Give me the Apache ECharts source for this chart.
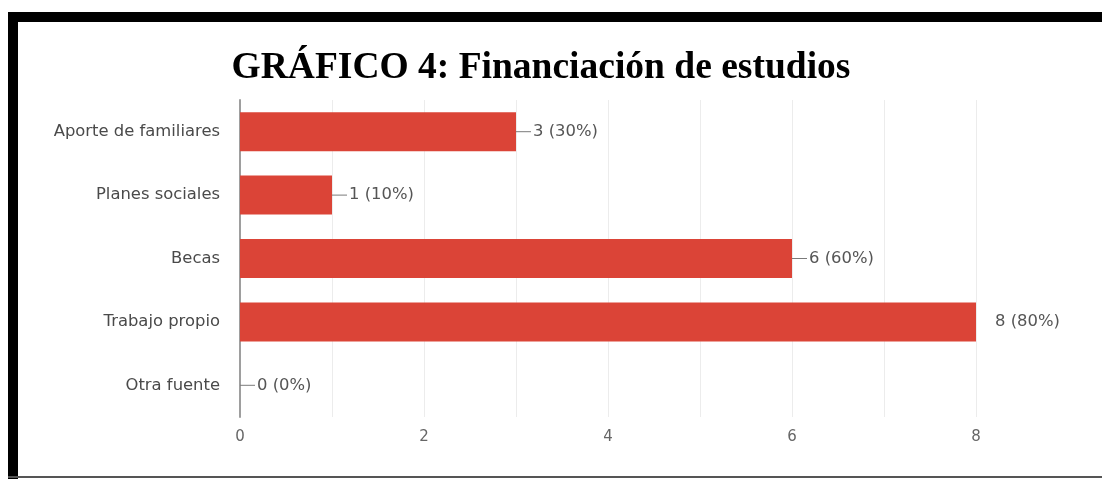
<!DOCTYPE html>
<html>
<head>
<meta charset="utf-8">
<style>
  html, body { margin: 0; padding: 0; background: #fff; }
  #chart { width: 1102px; height: 479px; }
</style>
<script src="https://cdn.jsdelivr.net/npm/echarts@6/dist/echarts.min.js"></script>
</head>
<body>
<div id="chart"></div>
<script>
var categories = ['Aporte de familiares', 'Planes sociales', 'Becas', 'Trabajo propio', 'Otra fuente'];
var counts = [3, 1, 6, 8, 0];
var percents = [30, 10, 60, 80, 0];
var axisMax = 8;

var chart = echarts.init(document.getElementById('chart'));
var sans = '"DejaVu Sans", Arial, sans-serif';

// bars reaching the axis end get their label without the leader line
var barData = counts.map(function (v, i) {
  var txt = v + ' (' + percents[i] + '%)';
  if (v >= axisMax) {
    return { value: v, label: { formatter: '{t|' + txt + '}', distance: 17 } };
  }
  return { value: v, label: { formatter: '{l|}{t|' + txt + '}' } };
});

var option = {
  backgroundColor: '#fff',
  animation: false,
  title: {
    text: 'GRÁFICO 4: Financiación de estudios',
    left: 536,
    textAlign: 'center',
    top: 44,
    textStyle: {
      fontFamily: '"Liberation Serif", "Times New Roman", serif',
      fontWeight: 'bold',
      fontSize: 37.5,
      color: '#000'
    }
  },
  graphic: [
    { type: 'rect', shape: { x: 8, y: 12, width: 1094, height: 10 }, style: { fill: '#000' } },
    { type: 'rect', shape: { x: 8, y: 12, width: 10, height: 467 }, style: { fill: '#000' } },
    { type: 'rect', shape: { x: 8, y: 476, width: 1094, height: 2 }, style: { fill: '#555' } }
  ],
  grid: { left: 240, right: 126, top: 100, bottom: 62 },
  xAxis: {
    type: 'value',
    min: 0,
    max: axisMax,
    interval: 1,
    axisLine: { show: false },
    axisTick: { show: false },
    splitLine: { lineStyle: { color: '#ececec', width: 1 } },
    axisLabel: {
      margin: 13,
      color: '#666',
      fontSize: 15,
      fontFamily: sans,
      formatter: function (v) { return v % 2 === 0 ? String(v) : ''; }
    }
  },
  yAxis: {
    type: 'category',
    inverse: true,
    data: categories,
    axisLine: { show: true, lineStyle: { color: '#9e9e9e', width: 2 } },
    axisTick: { show: false },
    axisLabel: {
      margin: 20,
      color: '#4a4a4a',
      fontSize: 16.4,
      fontFamily: sans
    }
  },
  series: [{
    type: 'bar',
    data: barData,
    barWidth: 39,
    itemStyle: { color: '#db4437' },
    label: {
      show: true,
      position: 'right',
      distance: 0,
      rich: {
        l: { width: 15, height: 1, backgroundColor: '#7a7a7a', verticalAlign: 'middle' },
        t: {
          color: '#555',
          fontSize: 16.4,
          padding: [0, 0, 0, 2],
          fontFamily: sans,
          verticalAlign: 'middle'
        }
      }
    }
  }]
};

chart.setOption(option);
</script>
</body>
</html>
